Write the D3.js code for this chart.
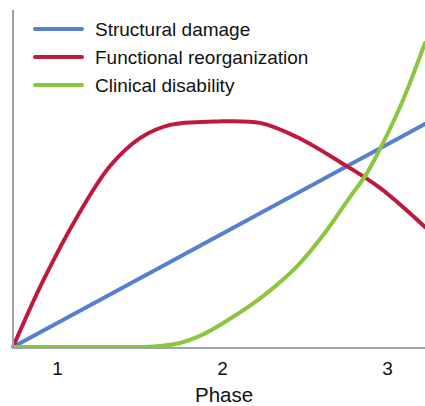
<!DOCTYPE html>
<html><head><meta charset="utf-8">
<script src="https://cdn.jsdelivr.net/npm/d3@7"></script>
<style>body{margin:0;background:#fff}svg{display:block}text{font-family:"Liberation Sans",Arial,sans-serif;fill:#111}</style>
</head><body>
<script>
const seriesNames = ["Structural damage","Functional reorganization","Clinical disability"];
const seriesColors = ["#5580cf","#bf1a3d","#8cc63f"];
const tickLabels = [1,2,3];
const axisTitle = "Phase";
// phase (x) and relative level (y, 0-100)
const structuralX = [0.733, 3.230];
const structuralY = [0, 66.2];
const functionalX = [0.733,0.915,1.121,1.321,1.503,1.685,1.957,2.230,2.454,2.715,2.957,3.230];
const functionalY = [0,19.6,38.6,53.7,62.0,65.9,66.9,66.5,62.3,54.9,47.2,35.6];
const clinicalX = [0.733,1.503,1.624,1.745,1.866,2.066,2.272,2.473,2.636,2.775,2.878,2.975,3.097,3.230];
const clinicalY = [0,0,0.3,1.2,3.3,8.9,16.0,24.9,34.7,44.5,51.6,60.5,73.3,90.2];

const W=425,H=406;
const svg=d3.select("body").append("svg").attr("width",W).attr("height",H);
const x=d3.scaleLinear().domain([0.733,3.230]).range([13,425]);
const y=d3.scaleLinear().domain([0,100]).range([347,10]);

const series=[
  {xs:structuralX, ys:structuralY, curve:d3.curveLinear},
  {xs:functionalX, ys:functionalY, curve:d3.curveCatmullRom.alpha(0.5)},
  {xs:clinicalX, ys:clinicalY, curve:d3.curveMonotoneX}
];
const plot=svg.append("g");
plot.append("clipPath").attr("id","c").append("rect").attr("x",0).attr("y",0).attr("width",W).attr("height",348);
// axes
svg.append("line").attr("x1",13).attr("x2",13).attr("y1",y(100)).attr("y2",y(0)).attr("stroke","#9aa4ab").attr("stroke-width",2);
svg.append("line").attr("x1",12).attr("x2",W).attr("y1",y(0)+1).attr("y2",y(0)+1).attr("stroke","#9aa4ab").attr("stroke-width",2);
[0,1,2].forEach(i=>{
  const s=series[i];
  const line=d3.line().x(d=>x(d[0])).y(d=>y(d[1])).curve(s.curve);
  plot.append("path").attr("clip-path","url(#c)")
    .datum(s.xs.map((v,k)=>[v,s.ys[k]]))
    .attr("d",line).attr("fill","none").attr("stroke",seriesColors[i]).attr("stroke-width",4).attr("stroke-linecap","round");
});
// x axis labels
const ax=svg.append("g").attr("transform",`translate(0,${y(0)})`)
  .call(d3.axisBottom(x).tickValues(tickLabels).tickFormat(d3.format("d")).tickSize(0).tickPadding(0));
ax.select(".domain").remove();
ax.selectAll("text").attr("font-size",19).attr("dy",null).attr("y",28).attr("fill","#111").style("font-family",'"Liberation Sans",Arial,sans-serif');
svg.append("text").attr("x",x(2)+2).attr("y",402).attr("text-anchor","middle").attr("font-size",20.5).text(axisTitle);
// legend
const lg=svg.append("g");
seriesNames.forEach((n,i)=>{
  const yy=29+i*28;
  lg.append("line").attr("x1",35).attr("x2",82).attr("y1",yy).attr("y2",yy).attr("stroke",seriesColors[i]).attr("stroke-width",4).attr("stroke-linecap","round");
  lg.append("text").attr("x",95).attr("y",yy+7).attr("font-size",19).text(n);
});
</script>
</body></html>
